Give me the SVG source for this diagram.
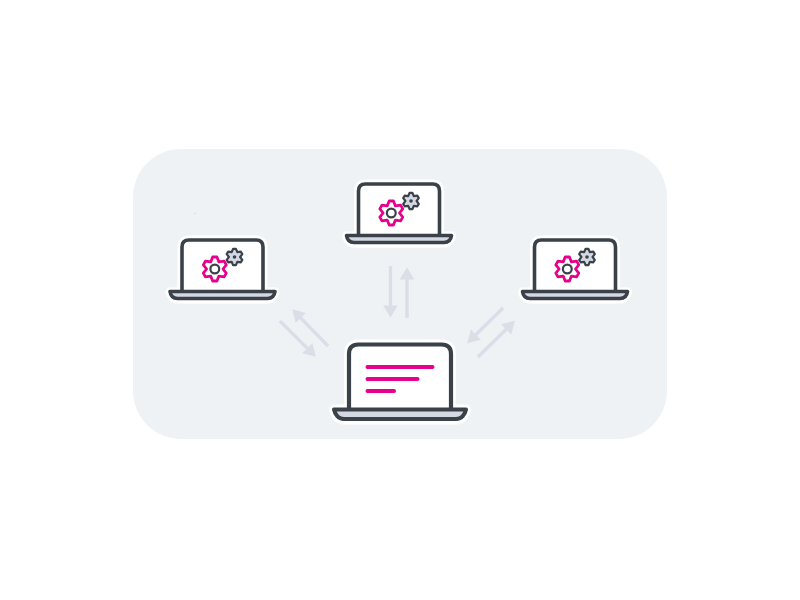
<svg xmlns="http://www.w3.org/2000/svg" xmlns:xlink="http://www.w3.org/1999/xlink" width="800" height="600" viewBox="0 0 800 600">
  <style>
    .halo { fill: #fff; stroke: #fff; stroke-linejoin: round; }
    .screen { fill: #fff; stroke: #3a4149; stroke-linejoin: round; }
    .base { fill: #d3d8e2; stroke: #3a4149; stroke-linejoin: round; }
    .arrow { fill: none; stroke: #d9dee7; stroke-width: 3.4; marker-end: url(#head); }
    .bar { stroke: #e6008c; stroke-width: 4; stroke-linecap: round; fill: none; }
  </style>
  <defs>
    <marker id="head" markerUnits="userSpaceOnUse" markerWidth="16" markerHeight="16" viewBox="-1 -8 14 16" refX="0.5" refY="0" orient="auto">
      <path d="M0 -7.2 L12.2 0 L0 7.2 Z" fill="#d9dee7"/>
    </marker>
    <path id="gear" d="M-2.12 -12.01 L2.12 -12.01 L4.1 -7.1 L9.35 -7.84 L11.46 -4.17 L8.2 0 L11.46 4.17 L9.35 7.84 L4.1 7.1 L2.12 12.01 L-2.12 12.01 L-4.1 7.1 L-9.35 7.84 L-11.46 4.17 L-8.2 0 L-11.46 -4.17 L-9.35 -7.84 L-4.1 -7.1 Z"/>
    <g id="small-laptop">
      <path class="halo" stroke-width="9" d="M358.5 236 V191 Q358.5 184 365.5 184 H432.5 Q439.5 184 439.5 191 V236 H451.5 C451 239 449 243 444 243 H354 C349 243 347 239 346.5 236 Z"/>
      <path class="screen" stroke-width="3.6" d="M358.5 236 V191 Q358.5 184 365.5 184 H432.5 Q439.5 184 439.5 191 V236"/>
      <path class="base" stroke-width="3.6" d="M346.5 235.5 H451.5 C451 239 449 242.5 444 242.5 H354 C349 242.5 347 239 346.5 235.5 Z"/>
      <use xlink:href="#gear" href="#gear" transform="translate(391.3 213)" fill="#fff" stroke="#e6008c" stroke-width="2.8" stroke-linejoin="round"/>
      <circle cx="391.3" cy="213" r="4.4" fill="#fff" stroke="#3a4149" stroke-width="2.2"/>
      <use xlink:href="#gear" href="#gear" transform="translate(411 201) scale(.68)" fill="#d3d8e2" stroke="#3a4149" stroke-width="3.2" stroke-linejoin="round"/>
      <circle cx="411" cy="201" r="1.8" fill="#3a4149"/>
    </g>
  </defs>
  <g id="panel">
    <rect x="133" y="149" width="534" height="290" rx="48" ry="48" fill="#eff2f5"/>
    <ellipse cx="195" cy="213.5" rx="1" ry="0.7" fill="#d8dbde"/>
  </g>
  <g id="connectors">
    <path class="arrow" d="M390.5 266 V306"/>
    <path class="arrow" d="M407 318 V279"/>
    <path class="arrow" d="M280 321 L307.6 348.6"/>
    <path class="arrow" d="M328 346 L300.4 317.6"/>
    <path class="arrow" d="M503 308 L475.5 335"/>
    <path class="arrow" d="M478 357 L506.5 329"/>
  </g>
  <g id="laptop-top"><use xlink:href="#small-laptop" href="#small-laptop"/></g>
  <g id="laptop-left"><use xlink:href="#small-laptop" href="#small-laptop" transform="translate(-176.5 56)"/></g>
  <g id="laptop-right"><use xlink:href="#small-laptop" href="#small-laptop" transform="translate(176 56)"/></g>
  <g id="laptop-main">
    <path class="halo" stroke-width="10" d="M349 409.5 V354 Q349 344.5 358.5 344.5 H441.5 Q451 344.5 451 354 V409.5 H466 C465 414 462 419.5 456 419.5 H344 C338 419.5 335 414 334 409.5 Z"/>
    <path class="screen" stroke-width="4.2" d="M349 409.5 V354 Q349 344.5 358.5 344.5 H441.5 Q451 344.5 451 354 V409.5"/>
    <path class="base" stroke-width="4" d="M334 409.5 H466 C465 414 462 419 456 419 H344 C338 419 335 414 334 409.5 Z"/>
    <path class="bar" d="M367.5 367 H432.5 M367.5 379 H417.5 M367.5 391 H394"/>
  </g>
</svg>
